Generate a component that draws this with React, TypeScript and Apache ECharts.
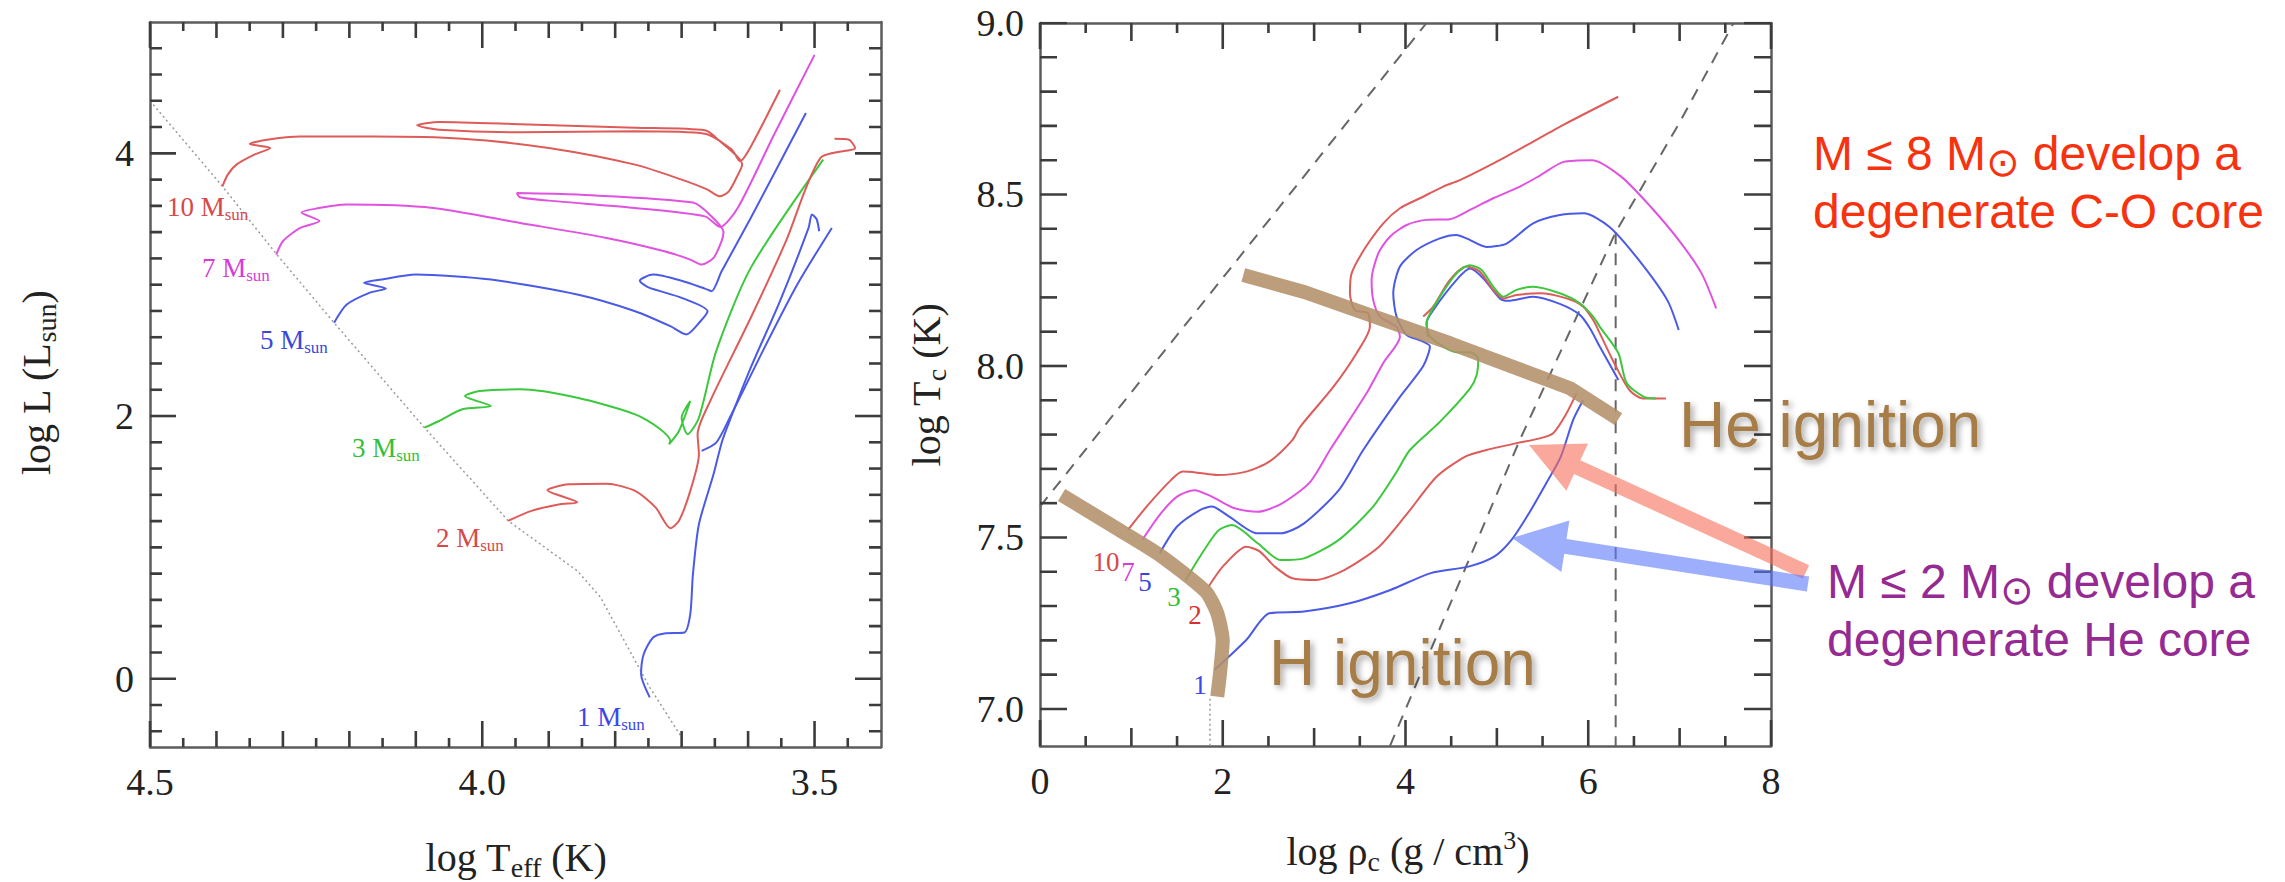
import React, { useEffect, useRef } from 'react';
import * as echarts from 'echarts';

// ---------------- Left panel: HR diagram  [log Teff, log L] ----------------
const HR_ZAMS = [[4.5, 4.40], [4.391, 3.749], [4.309, 3.229], [4.223, 2.71], [4.087, 1.911], [3.961, 1.202], [3.857, 0.821], [3.822, 0.619], [3.748, -0.066], [3.7, -0.446]];
const HR_10 = [[4.391, 3.749], [4.383, 3.838], [4.37, 3.914], [4.343, 3.99], [4.319, 4.041], [4.35, 4.071], [4.324, 4.104], [4.274, 4.129], [4.161, 4.129], [4.03, 4.112], [3.9, 4.041], [3.77, 3.914], [3.7, 3.8], [3.661, 3.724], [3.643, 3.673], [3.629, 3.711], [3.616, 3.83], [3.609, 3.914], [3.645, 4.104], [3.665, 4.175], [3.77, 4.195], [3.943, 4.222], [4.065, 4.239], [4.098, 4.213], [4.065, 4.18], [3.943, 4.16], [3.77, 4.168], [3.665, 4.15], [3.625, 4.03], [3.612, 3.94], [3.595, 4.06], [3.552, 4.484]];
const HR_7 = [[4.31, 3.229], [4.3, 3.331], [4.274, 3.432], [4.245, 3.485], [4.272, 3.549], [4.25, 3.579], [4.204, 3.61], [4.074, 3.584], [3.943, 3.47], [3.813, 3.356], [3.726, 3.255], [3.687, 3.191], [3.67, 3.153], [3.652, 3.204], [3.64, 3.33], [3.637, 3.4], [3.655, 3.52], [3.683, 3.625], [3.857, 3.686], [3.948, 3.698], [3.943, 3.665], [3.9, 3.64], [3.77, 3.584], [3.665, 3.52], [3.642, 3.44], [3.615, 3.59], [3.561, 4.142], [3.5, 4.75]];
const HR_5 = [[4.223, 2.71], [4.204, 2.849], [4.17, 2.938], [4.145, 2.971], [4.178, 3.014], [4.152, 3.039], [4.1, 3.077], [3.987, 3.039], [3.857, 2.925], [3.77, 2.798], [3.717, 2.684], [3.693, 2.621], [3.672, 2.72], [3.661, 2.798], [3.7, 2.9], [3.75, 2.98], [3.763, 3.03], [3.743, 3.077], [3.7, 3.03], [3.665, 2.97], [3.655, 2.95], [3.64, 3.1], [3.596, 3.508], [3.513, 4.307]];
const HR_3 = [[4.087, 1.911], [4.065, 1.962], [4.03, 2.051], [3.987, 2.076], [4.026, 2.152], [4.004, 2.19], [3.943, 2.203], [3.857, 2.139], [3.77, 2.013], [3.735, 1.911], [3.717, 1.81], [3.719, 1.785], [3.704, 1.886], [3.687, 2.114], [3.7, 1.987], [3.691, 1.861], [3.674, 1.987], [3.648, 2.494], [3.596, 3.128], [3.487, 3.952]];
const HR_2 = [[3.961, 1.202], [3.926, 1.278], [3.883, 1.328], [3.857, 1.343], [3.902, 1.435], [3.87, 1.48], [3.813, 1.485], [3.77, 1.43], [3.739, 1.303], [3.717, 1.146], [3.704, 1.202], [3.687, 1.43], [3.674, 1.709], [3.676, 1.861], [3.657, 2.114], [3.596, 2.748], [3.543, 3.331], [3.491, 3.965], [3.439, 4.041], [3.448, 4.104], [3.47, 4.112]];
const HR_1_RGB = [[3.748, -0.142], [3.761, 0.035], [3.757, 0.188], [3.743, 0.314], [3.726, 0.345], [3.696, 0.352], [3.687, 0.492], [3.683, 0.796], [3.674, 1.176], [3.652, 1.556], [3.639, 1.81], [3.626, 1.987], [3.596, 2.368], [3.552, 2.875], [3.509, 3.432], [3.504, 3.534], [3.497, 3.5], [3.493, 3.407]];
const HR_1_AGB = [[3.67, 1.734], [3.648, 1.797], [3.63, 1.962], [3.578, 2.494], [3.526, 3.001], [3.474, 3.432]];

// ---------------- Right panel: central conditions [log rho_c, log Tc] ----------------
const RC_10 = [[0.962, 7.522], [1.183, 7.595], [1.436, 7.668], [1.562, 7.692], [1.72, 7.689], [1.94, 7.682], [2.257, 7.692], [2.509, 7.721], [2.762, 7.784], [2.845, 7.822], [3.21, 7.939], [3.466, 8.038], [3.61, 8.115], [3.592, 8.154], [3.446, 8.163], [3.392, 8.212], [3.41, 8.27], [3.556, 8.343], [3.757, 8.416], [3.939, 8.46], [4.158, 8.489], [4.413, 8.523], [4.595, 8.542], [5.097, 8.61], [5.728, 8.703], [6.328, 8.785]];
const RC_7 = [[1.12, 7.493], [1.31, 7.566], [1.5, 7.619], [1.69, 7.638], [1.88, 7.619], [2.13, 7.585], [2.38, 7.575], [2.64, 7.598], [2.95, 7.66], [3.173, 7.755], [3.575, 7.921], [3.757, 8.009], [3.939, 8.085], [3.902, 8.114], [3.72, 8.144], [3.647, 8.192], [3.629, 8.251], [3.702, 8.328], [3.829, 8.377], [4.012, 8.411], [4.231, 8.426], [4.486, 8.428], [4.705, 8.455], [4.96, 8.489], [5.252, 8.523], [5.47, 8.555], [5.73, 8.595], [6.04, 8.6], [6.36, 8.552], [6.68, 8.465], [6.99, 8.367], [7.24, 8.27], [7.4, 8.168]];
const RC_5 = [[1.31, 7.454], [1.5, 7.532], [1.75, 7.58], [1.88, 7.59], [2.07, 7.561], [2.38, 7.512], [2.636, 7.512], [2.89, 7.541], [3.27, 7.638], [3.537, 7.755], [3.939, 7.91], [4.194, 8.0], [4.267, 8.057], [4.158, 8.075], [4.012, 8.09], [3.902, 8.144], [3.866, 8.212], [3.939, 8.29], [4.121, 8.338], [4.376, 8.372], [4.559, 8.382], [4.668, 8.372], [4.887, 8.347], [5.106, 8.357], [5.397, 8.416], [5.689, 8.44], [5.95, 8.445], [6.23, 8.406], [6.55, 8.31], [6.865, 8.192], [6.99, 8.105]];
const RC_3 = [[1.594, 7.376], [1.75, 7.444], [1.95, 7.52], [2.1, 7.536], [2.383, 7.483], [2.636, 7.434], [2.89, 7.439], [3.27, 7.493], [3.645, 7.59], [3.9, 7.69], [4.048, 7.755], [4.376, 7.837], [4.705, 7.934], [4.778, 7.973], [4.796, 8.02], [4.705, 8.04], [4.559, 8.04], [4.267, 8.086], [4.231, 8.125], [4.35, 8.19], [4.559, 8.27], [4.705, 8.294], [4.833, 8.28], [4.96, 8.231], [5.07, 8.202], [5.215, 8.222], [5.397, 8.231], [5.689, 8.212], [5.908, 8.183], [6.054, 8.144], [6.127, 8.114], [6.33, 8.037], [6.42, 7.95], [6.61, 7.91], [6.74, 7.905]];
const RC_2_PRE = [[1.846, 7.357], [2.0, 7.415], [2.257, 7.473], [2.4, 7.46], [2.57, 7.415], [2.76, 7.381], [3.015, 7.376], [3.33, 7.405], [3.71, 7.473], [4.02, 7.57], [4.34, 7.677], [4.655, 7.736], [4.887, 7.755], [5.215, 7.775], [5.47, 7.789], [5.616, 7.804], [5.762, 7.862], [5.871, 7.92]];
const RC_2_POST = [[4.194, 8.144], [4.303, 8.173], [4.486, 8.251], [4.668, 8.29], [4.814, 8.275], [4.96, 8.222], [5.07, 8.197], [5.215, 8.207], [5.47, 8.212], [5.762, 8.197], [5.944, 8.173], [6.054, 8.134], [6.127, 8.095], [6.3, 8.0], [6.45, 7.93], [6.6, 7.905], [6.85, 7.905]];
const RC_1_PRE = [[1.91, 7.114], [2.257, 7.201], [2.51, 7.279], [2.89, 7.284], [3.39, 7.308], [3.835, 7.347], [4.277, 7.396], [4.69, 7.415], [4.97, 7.444], [5.16, 7.493], [5.35, 7.57], [5.54, 7.658], [5.7, 7.736], [5.835, 7.843], [5.944, 7.9]];
const RC_1_POST = [[4.249, 8.085], [4.23, 8.125], [4.303, 8.163], [4.559, 8.251], [4.705, 8.284], [4.85, 8.256], [5.033, 8.197], [5.124, 8.19], [5.397, 8.202], [5.689, 8.181], [5.908, 8.149], [6.018, 8.11], [6.127, 8.056], [6.33, 7.959]];
const H_IGNITION = [[0.236, 7.624], [0.868, 7.522], [1.31, 7.449], [1.815, 7.342], [1.94, 7.279], [2.0, 7.2], [1.97, 7.104], [1.94, 7.036]];
const HE_IGNITION = [[2.225, 8.265], [2.9, 8.215], [4.5, 8.065], [5.8, 7.935], [6.33, 7.845]];
const DEGEN_A = [[0, 7.59], [4.23, 9.0]];
const DEGEN_B = [[3.83, 6.892], [5.25, 7.784], [6.3, 8.39], [7.0, 8.71], [7.59, 9.0]];
const VERTICAL = [[6.3, 8.39], [6.3, 6.892]];
const H_DOTTED = [[1.86, 7.03], [1.86, 6.892]];

// ---------------- Tick values ----------------
const LX_MAJOR = [4.5, 4.0, 3.5];
const LX_MID = [4.4, 4.3, 4.2, 4.1, 3.9, 3.8, 3.7, 3.6];
const LX_MINOR = [4.45, 4.35, 4.25, 4.15, 4.05, 3.95, 3.85, 3.75, 3.65, 3.55, 3.45];
const LY_MAJOR = [0, 2, 4];
const LY_MINOR = [-0.4, -0.2, 0.2, 0.4, 0.6, 0.8, 1.0, 1.2, 1.4, 1.6, 1.8, 2.2, 2.4, 2.6, 2.8, 3.0, 3.2, 3.4, 3.6, 3.8, 4.2, 4.4, 4.6, 4.8];
const RX_MAJOR = [0, 2, 4, 6, 8];
const RX_MID = [1, 3, 5, 7];
const RX_MINOR = [0.5, 1.5, 2.5, 3.5, 4.5, 5.5, 6.5, 7.5];
const RY_MAJOR = [7.0, 7.5, 8.0, 8.5, 9.0];
const RY_MINOR = [7.1, 7.2, 7.3, 7.4, 7.6, 7.7, 7.8, 7.9, 8.1, 8.2, 8.3, 8.4, 8.6, 8.7, 8.8, 8.9];

const SERIF = "'Liberation Serif', 'Times New Roman', serif";
const SANS = "'Liberation Sans', Arial, Helvetica, sans-serif";
const FRAME = '#5c5c5c';
const TICK = '#3c3c3c';
const RED = '#dd5c5a';
const MAG = '#e052e0';
const BLUE = '#4a5ae6';
const GREEN = '#3cc83c';
const BROWN = '#b3906a';

function frameAxis(gridIndex: number, position: string, min: number, max: number, inverse: boolean,
  label?: { values: number[]; digits: number }) {
  return {
    type: 'value', gridIndex, position, min, max, inverse,
    splitLine: { show: false },
    axisLine: { show: true, onZero: false, lineStyle: { color: FRAME, width: 2.5 } },
    axisTick: { show: false },
    axisLabel: label
      ? { show: true, customValues: label.values, formatter: (v: number) => Number(v).toFixed(label.digits), fontFamily: SERIF, fontSize: 38, color: '#222', margin: 16 }
      : { show: false },
  };
}

function track(xi: number, yi: number, data: number[][], color: string, extra: any = {}) {
  return {
    type: 'line', xAxisIndex: xi, yAxisIndex: yi, data, symbol: 'none', showSymbol: false,
    smooth: 0.25, silent: true, z: 3,
    lineStyle: { color, width: 2 }, ...extra,
  };
}

// One tiny two-point line series per inward tick, on the panel's own axes.
// lenPx is converted to data units with the axis span / grid size.
function tickMarks(xi: number, yi: number, vals: number[], lenPx: number, dir: 'x' | 'y',
  lo: number, hi: number, gridPx: number) {
  const span = hi - lo;
  const d = (lenPx / gridPx) * span; // signed: points inward from lo
  const out: any[] = [];
  vals.forEach((v) => {
    const segs = dir === 'x'
      ? [[[v, lo], [v, lo + d]], [[v, hi], [v, hi - d]]]
      : [[[lo, v], [lo + d, v]], [[hi, v], [hi - d, v]]];
    segs.forEach((seg) => out.push({
      type: 'line', xAxisIndex: xi, yAxisIndex: yi, data: seg, symbol: 'none', showSymbol: false,
      silent: true, z: 10, smooth: false, lineStyle: { color: TICK, width: 2.6, cap: 'butt' },
    }));
  });
  return out;
}

function arrowPts(x0: number, y0: number, x1: number, y1: number, sw: number, hl: number, hw: number) {
  const dx = x1 - x0, dy = y1 - y0, L = Math.hypot(dx, dy);
  const ux = dx / L, uy = dy / L, px = -uy, py = ux;
  const bx = x1 - ux * hl, by = y1 - uy * hl;
  return [
    [x0 + px * sw / 2, y0 + py * sw / 2], [bx + px * sw / 2, by + py * sw / 2], [bx + px * hw / 2, by + py * hw / 2],
    [x1, y1], [bx - px * hw / 2, by - py * hw / 2], [bx - px * sw / 2, by - py * sw / 2], [x0 - px * sw / 2, y0 - py * sw / 2],
  ];
}

function massLabel(x: number, y: number, num: string, color: string) {
  return {
    type: 'text', x, y, z: 50,
    style: {
      text: `{a|${num} M}{s|sun}`, align: 'left', verticalAlign: 'middle',
      rich: {
        a: { fontFamily: SERIF, fontSize: 27, fill: color, lineHeight: 32 },
        s: { fontFamily: SERIF, fontSize: 17, fill: color, lineHeight: 12, verticalAlign: 'bottom' },
      },
    },
  };
}

function numLabel(x: number, y: number, t: string, color: string) {
  return { type: 'text', x, y, z: 50, style: { text: t, fontFamily: SERIF, fontSize: 27, fill: color, align: 'center', verticalAlign: 'middle' } };
}

const titleRich = {
  a: { fontFamily: SERIF, fontSize: 40, fill: '#222', lineHeight: 48 },
  s: { fontFamily: SERIF, fontSize: 28, fill: '#222', lineHeight: 28, verticalAlign: 'bottom' },
  t: { fontFamily: SERIF, fontSize: 26, fill: '#222', lineHeight: 34, verticalAlign: 'top' },
};

export default function App() {
  const ref = useRef<HTMLDivElement>(null);
  useEffect(() => {
    if (!ref.current) return;
    const chart = echarts.init(ref.current, undefined, { renderer: 'svg' });
    const LMIN = 3.4, LMAX = 4.5, LYMIN = -0.52, LYMAX = 5.0;
    const RXMIN = 0, RXMAX = 8, RYMIN = 6.892, RYMAX = 9.0;
    const G0 = { left: 150, top: 22, width: 731, height: 725 };
    const G1 = { left: 1040, top: 23, width: 731, height: 723 };
    const xAxis = [
      frameAxis(0, 'bottom', LMIN, LMAX, true, { values: LX_MAJOR, digits: 1 }),
      frameAxis(0, 'top', LMIN, LMAX, true),
      frameAxis(1, 'bottom', RXMIN, RXMAX, false, { values: RX_MAJOR, digits: 0 }),
      frameAxis(1, 'top', RXMIN, RXMAX, false),
    ];
    const yAxis = [
      frameAxis(0, 'left', LYMIN, LYMAX, false, { values: LY_MAJOR, digits: 0 }),
      frameAxis(0, 'right', LYMIN, LYMAX, false),
      frameAxis(1, 'left', RYMIN, RYMAX, false, { values: RY_MAJOR, digits: 1 }),
      frameAxis(1, 'right', RYMIN, RYMAX, false),
    ];
    const dashed = { lineStyle: { color: '#666', width: 2, type: [12, 9] }, smooth: false, z: 2 };
    const ticks = [
      ...tickMarks(0, 0, LX_MAJOR, 26, 'x', LYMIN, LYMAX, G0.height),
      ...tickMarks(0, 0, LX_MID, 16, 'x', LYMIN, LYMAX, G0.height),
      ...tickMarks(0, 0, LX_MINOR, 9, 'x', LYMIN, LYMAX, G0.height),
      ...tickMarks(0, 0, LY_MAJOR, 26, 'y', LMAX, LMIN, G0.width),
      ...tickMarks(0, 0, LY_MINOR, 12, 'y', LMAX, LMIN, G0.width),
      ...tickMarks(2, 2, RX_MAJOR, 26, 'x', RYMIN, RYMAX, G1.height),
      ...tickMarks(2, 2, RX_MID, 18, 'x', RYMIN, RYMAX, G1.height),
      ...tickMarks(2, 2, RX_MINOR, 10, 'x', RYMIN, RYMAX, G1.height),
      ...tickMarks(2, 2, RY_MAJOR, 27, 'y', RXMIN, RXMAX, G1.width),
      ...tickMarks(2, 2, RY_MINOR, 17, 'y', RXMIN, RXMAX, G1.width),
    ];
    const series: any[] = [
      track(0, 0, HR_ZAMS, '#9a9a9a', { lineStyle: { color: '#9a9a9a', width: 1.5, type: [2, 3] }, smooth: false, z: 2 }),
      track(0, 0, HR_10, RED),
      track(0, 0, HR_7, MAG),
      track(0, 0, HR_5, BLUE),
      track(0, 0, HR_3, GREEN),
      track(0, 0, HR_2, RED),
      track(0, 0, HR_1_RGB, BLUE),
      track(0, 0, HR_1_AGB, BLUE),
      track(2, 2, DEGEN_A, '#666', dashed),
      track(2, 2, DEGEN_B, '#666', dashed),
      track(2, 2, VERTICAL, '#666', dashed),
      track(2, 2, H_DOTTED, '#999', { lineStyle: { color: '#999', width: 1.5, type: [2, 3] }, smooth: false, z: 2 }),
      track(2, 2, RC_10, RED),
      track(2, 2, RC_7, MAG),
      track(2, 2, RC_5, BLUE),
      track(2, 2, RC_1_PRE, BLUE),
      track(2, 2, RC_1_POST, BLUE),
      track(2, 2, RC_2_PRE, RED),
      track(2, 2, RC_2_POST, RED),
      track(2, 2, RC_3, GREEN),
      track(2, 2, H_IGNITION, BROWN, { lineStyle: { color: BROWN, width: 14, opacity: 0.88 }, smooth: 0.2, z: 5 }),
      track(2, 2, HE_IGNITION, BROWN, { lineStyle: { color: BROWN, width: 14, opacity: 0.88 }, smooth: false, z: 5 }),
      ...ticks,
    ];
    const shadow = { textShadowColor: 'rgba(0,0,0,0.35)', textShadowBlur: 6, textShadowOffsetX: 3, textShadowOffsetY: 3 };
    const graphic: any[] = [
      { type: 'text', x: 516, y: 857, z: 50, style: { text: '{a|log T}{s|eff}{a| (K)}', rich: titleRich, align: 'center', verticalAlign: 'middle' } },
      { type: 'text', x: 36, y: 383, rotation: Math.PI / 2, z: 50, style: { text: '{a|log L (L}{s|sun}{a|)}', rich: titleRich, align: 'center', verticalAlign: 'middle' } },
      { type: 'text', x: 1408, y: 851, z: 50, style: { text: '{a|log ρ}{s|c}{a| (g / cm}{t|3}{a|)}', rich: titleRich, align: 'center', verticalAlign: 'middle' } },
      { type: 'text', x: 926, y: 385, rotation: Math.PI / 2, z: 50, style: { text: '{a|log T}{s|c}{a| (K)}', rich: titleRich, align: 'center', verticalAlign: 'middle' } },
      massLabel(167, 207, '10', '#d84848'),
      massLabel(202, 268, '7', '#d63cd6'),
      massLabel(260, 340, '5', '#3a48d8'),
      massLabel(352, 448, '3', '#34c034'),
      massLabel(436, 538, '2', '#d84848'),
      massLabel(577, 717, '1', '#3a48e8'),
      numLabel(1106, 562, '10', '#d84848'),
      numLabel(1128, 572, '7', '#d63cd6'),
      numLabel(1145, 582, '5', '#3a48d8'),
      numLabel(1174, 597, '3', '#34c034'),
      numLabel(1195, 615, '2', '#d83030'),
      numLabel(1200, 685, '1', '#3a48e8'),
      { type: 'text', x: 1679, y: 425, z: 60, style: { text: 'He ignition', fontFamily: SANS, fontSize: 64, fill: '#a67b46', align: 'left', verticalAlign: 'middle', ...shadow } },
      { type: 'text', x: 1269, y: 663, z: 60, style: { text: 'H ignition', fontFamily: SANS, fontSize: 64, fill: '#a67b46', align: 'left', verticalAlign: 'middle', ...shadow } },
      { type: 'polygon', z: 70, shape: { points: arrowPts(1806, 572, 1529, 445, 15, 53, 52) }, style: { fill: 'rgba(246,110,90,0.6)' } },
      { type: 'polygon', z: 70, shape: { points: arrowPts(1808, 584, 1512, 538, 15, 54, 52) }, style: { fill: 'rgba(90,120,250,0.6)' } },
      {
        type: 'text', x: 1813, y: 124, z: 60,
        style: {
          text: '{a|M ≤ 8 M}{o|⊙}{a| develop a}\n{a|degenerate C-O core}', align: 'left', verticalAlign: 'top',
          rich: {
            a: { fontFamily: SANS, fontSize: 48, fill: '#f7330f', lineHeight: 58 },
            o: { fontFamily: "'DejaVu Sans', sans-serif", fontSize: 40, fill: '#f7330f', lineHeight: 50, verticalAlign: 'bottom' },
          },
        },
      },
      {
        type: 'text', x: 1827, y: 552, z: 60,
        style: {
          text: '{a|M ≤ 2 M}{o|⊙}{a| develop a}\n{a|degenerate He core}', align: 'left', verticalAlign: 'top',
          rich: {
            a: { fontFamily: SANS, fontSize: 48, fill: '#952a92', lineHeight: 58 },
            o: { fontFamily: "'DejaVu Sans', sans-serif", fontSize: 40, fill: '#952a92', lineHeight: 50, verticalAlign: 'bottom' },
          },
        },
      },
    ];
    chart.setOption({
      animation: false,
      backgroundColor: '#ffffff',
      grid: [G0, G1],
      xAxis, yAxis, series, graphic,
    });
    return () => chart.dispose();
  }, []);
  return <div ref={ref} style={{ position: 'absolute', left: 0, top: 0, width: 2285, height: 882, background: '#fff' }} />;
}
